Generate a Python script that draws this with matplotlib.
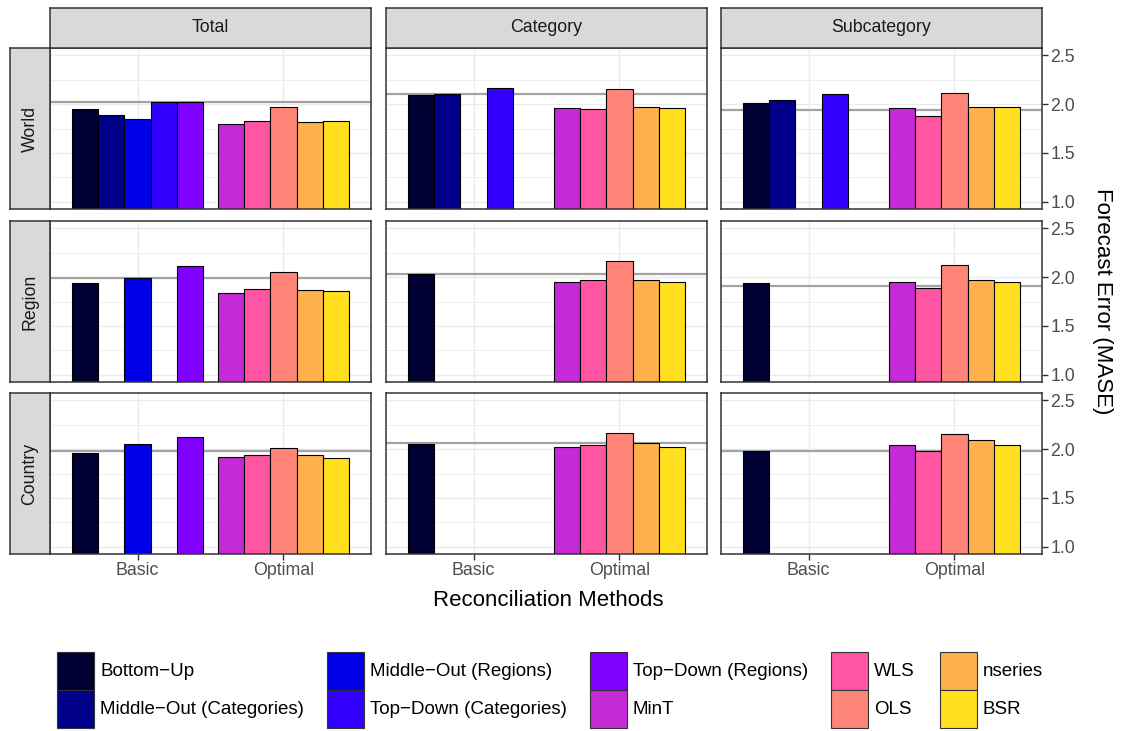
import numpy as np
import matplotlib
matplotlib.use("Agg")
import matplotlib.pyplot as plt
from matplotlib.patches import Rectangle

plt.rcParams['font.family'] = ['Liberation Sans', 'DejaVu Sans']

levels = ['World', 'Region', 'Country']
series = ['Total', 'Category', 'Subcategory']
groups = ['Basic', 'Optimal']
methods = ['Bottom\u2212Up', 'Middle\u2212Out (Categories)', 'Middle\u2212Out (Regions)',
           'Top\u2212Down (Categories)', 'Top\u2212Down (Regions)',
           'MinT', 'WLS', 'OLS', 'nseries', 'BSR']
method_group = [0, 0, 0, 0, 0, 1, 1, 1, 1, 1]
method_slot = [-2, -1, 0, 1, 2, -2, -1, 0, 1, 2]
colors = ['#000033', '#00008B', '#0000E8', '#3300FF', '#8000FF',
          '#C42AD6', '#FF55A3', '#FF8578', '#FFB14E', '#FFDF1E']

nan = np.nan
# MASE per method (columns follow `methods`), one list per series column
world = [
    [1.95, 1.89, 1.85, 2.02, 2.02, 1.80, 1.83, 1.97, 1.82, 1.83],
    [2.09, 2.10, nan, 2.17, nan, 1.96, 1.95, 2.15, 1.97, 1.96],
    [2.01, 2.04, nan, 2.10, nan, 1.96, 1.88, 2.11, 1.97, 1.97],
]
region = [
    [1.94, nan, 1.99, nan, 2.11, 1.84, 1.88, 2.05, 1.87, 1.86],
    [2.03, nan, nan, nan, nan, 1.95, 1.97, 2.16, 1.97, 1.95],
    [1.94, nan, nan, nan, nan, 1.95, 1.89, 2.12, 1.97, 1.95],
]
country = [
    [1.96, nan, 2.05, nan, 2.12, 1.92, 1.94, 2.01, 1.94, 1.91],
    [2.05, nan, nan, nan, nan, 2.02, 2.04, 2.16, 2.06, 2.02],
    [1.98, nan, nan, nan, nan, 2.04, 1.98, 2.15, 2.09, 2.04],
]
# base forecast error (grey reference line)
world_base = [2.02, 2.10, 1.94]
region_base = [1.99, 2.03, 1.91]
country_base = [1.98, 2.06, 1.98]

values = [world, region, country]
bases = [world_base, region_base, country_base]

W, H = 1126, 731
fig = plt.figure(figsize=(W / 100, H / 100), dpi=100)

def px(x, y, w, h):
    return [x / W, 1 - (y + h) / H, w / W, h / H]

col_left = [50, 386, 721]
row_top = [48, 221, 393]
pw, ph = 321, 161
bw = 0.18
tick_col = '#4D4D4D'
edge_col = '#333333'

for r in range(3):
    for c in range(3):
        ax = fig.add_axes(px(col_left[c], row_top[r], pw, ph))
        ax.set_xlim(0.4, 2.6)
        ax.set_ylim(0.925, 2.575)
        ax.set_yticks([1.0, 1.5, 2.0, 2.5])
        ax.set_yticks([1.25, 1.75, 2.25], minor=True)
        ax.set_xticks([1, 2])
        ax.grid(which='major', color='#EBEBEB', lw=1.0, zorder=0)
        ax.grid(which='minor', axis='y', color='#EBEBEB', lw=0.6, zorder=0)
        ax.set_axisbelow(True)
        ax.axhline(bases[r][c], color='#A3A3A3', lw=1.6, zorder=1)
        vals = values[r][c]
        for i, m in enumerate(methods):
            if np.isnan(vals[i]):
                continue
            x = 1 + method_group[i] + method_slot[i] * bw
            ax.bar(x, vals[i], width=bw, color=colors[i], edgecolor='black',
                   linewidth=0.8, zorder=2)
        for s in ax.spines.values():
            s.set_color(edge_col)
            s.set_linewidth(1.1)
        ax.tick_params(which='both', length=0, colors=tick_col)
        ax.tick_params(axis='both', labelsize=12.8, labelcolor=tick_col)
        ax.tick_params(which='minor', length=0)
        if r == 2:
            ax.set_xticklabels(groups)
            ax.tick_params(axis='x', length=4, width=1.0, color=edge_col, pad=2)
        else:
            ax.set_xticklabels([])
        if c == 2:
            ax.yaxis.tick_right()
            ax.set_yticklabels(['1.0', '1.5', '2.0', '2.5'])
            ax.tick_params(axis='y', which='major', length=4, width=1.0,
                           color=edge_col, pad=2)
        else:
            ax.set_yticklabels([])

# facet strips
for c in range(3):
    sx = fig.add_axes(px(col_left[c], 8, pw, 40))
    sx.set_facecolor('#D9D9D9')
    sx.set_xticks([]); sx.set_yticks([])
    for s in sx.spines.values():
        s.set_color(edge_col); s.set_linewidth(1.1)
    sx.text(0.5, 0.5, series[c], ha='center', va='center', fontsize=12.8,
            color='#1A1A1A', transform=sx.transAxes)
for r in range(3):
    sy = fig.add_axes(px(10, row_top[r], 40, ph))
    sy.set_facecolor('#D9D9D9')
    sy.set_xticks([]); sy.set_yticks([])
    for s in sy.spines.values():
        s.set_color(edge_col); s.set_linewidth(1.1)
    sy.text(0.5, 0.5, levels[r], ha='center', va='center', fontsize=12.8,
            color='#1A1A1A', rotation=90, transform=sy.transAxes)

fig.text(548 / W, 1 - 601 / H, 'Reconciliation Methods', ha='center', va='center',
         fontsize=16, color='black')
fig.text(1103 / W, 1 - 301 / H, 'Forecast Error (MASE)', ha='center', va='center',
         fontsize=16, color='black', rotation=-90)

# legend: 5 columns x 2 rows, filled column-wise
leg_x = [57, 327, 590, 831, 940]
leg_y = [652, 690]
key_w, key_h = 37, 38
for i, m in enumerate(methods):
    kx, ky = leg_x[i // 2], leg_y[i % 2]
    fig.add_artist(Rectangle((kx / W, 1 - (ky + key_h) / H), key_w / W, key_h / H,
                             transform=fig.transFigure, facecolor=colors[i],
                             edgecolor='#333333', linewidth=0.8))
    fig.text((kx + key_w + 6) / W, 1 - (ky + key_h / 2) / H, m, ha='left',
             va='center', fontsize=13.5, color='black')

fig.savefig('out.png', dpi=100)
